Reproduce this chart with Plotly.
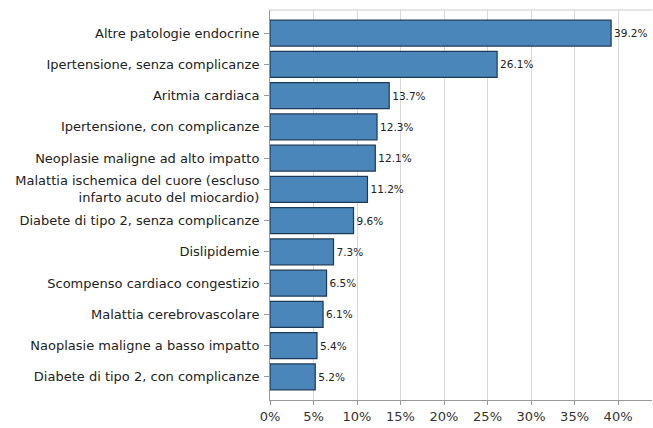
import plotly.graph_objects as go

categories = [
    "Altre patologie endocrine",
    "Ipertensione, senza complicanze",
    "Aritmia cardiaca",
    "Ipertensione, con complicanze",
    "Neoplasie maligne ad alto impatto",
    "Malattia ischemica del cuore (escluso<br>infarto acuto del miocardio)",
    "Diabete di tipo 2, senza complicanze",
    "Dislipidemie",
    "Scompenso cardiaco congestizio",
    "Malattia cerebrovascolare",
    "Naoplasie maligne a basso impatto",
    "Diabete di tipo 2, con complicanze",
]
values = [39.2, 26.1, 13.7, 12.3, 12.1, 11.2, 9.6, 7.3, 6.5, 6.1, 5.4, 5.2]
labels = [f"{v:.1f}%" for v in values]
tick_vals = [0, 5, 10, 15, 20, 25, 30, 35, 40]
tick_text = [f"{t}%" for t in tick_vals]

FONT = "DejaVu Sans"

fig = go.Figure(go.Bar(
    x=values, y=categories, orientation="h",
    marker=dict(color="#4a86ba", line=dict(color="#1c3a58", width=1.2)),
    text=labels, textposition="outside",
    textfont=dict(size=10.5, color="#222", family=FONT),
    cliponaxis=False, width=0.83,
))
fig.update_layout(
    width=653, height=428,
    margin=dict(l=270, r=1, t=10, b=28),
    plot_bgcolor="white", paper_bgcolor="white",
    font=dict(family=FONT, size=13, color="#222"),
    showlegend=False,
)
fig.update_xaxes(range=[0, 43.9], tickvals=tick_vals, ticktext=tick_text,
                 showgrid=True, gridcolor="#d9d9d9", gridwidth=1,
                 showline=True, linecolor="#999", mirror=False,
                 ticks="outside", ticklen=4, tickcolor="#999",
                 tickfont=dict(size=13, color="#333"), zeroline=False)
fig.update_yaxes(range=[11.74, -0.74], tickmode="array",
                 showline=True, linecolor="#999",
                 ticks="outside", ticklen=5, tickcolor="#999",
                 tickfont=dict(size=13, color="#222"), ticklabelstandoff=2)
fig.add_shape(type="line", xref="paper", yref="paper", x0=0, x1=1, y0=1, y1=1,
              line=dict(color="#ccc", width=1))
fig.write_html("out.html", config={"displayModeBar": False},
               post_script="document.body.style.margin='0';document.body.style.overflow='hidden';")
